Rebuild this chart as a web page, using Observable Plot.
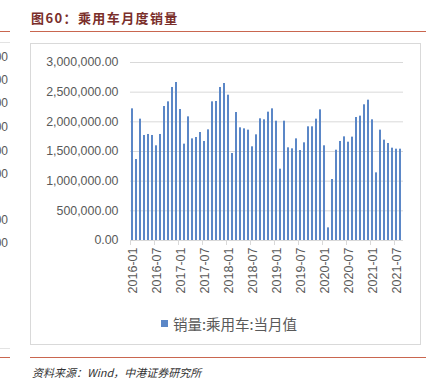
<!DOCTYPE html>
<html>
<head>
<meta charset="utf-8">
<script src="https://cdn.jsdelivr.net/npm/d3@7"></script>
<script src="https://cdn.jsdelivr.net/npm/@observablehq/plot@0.6"></script>
<style>
  html, body { margin: 0; padding: 0; background: #fff; }
  body { width: 435px; height: 386px; position: relative; overflow: hidden; font-family: "Liberation Sans", Arial, sans-serif; }
  .abs { position: absolute; }
  #title { left: 31px; top: 8px; font-family: "Noto Sans CJK SC", sans-serif; font-weight: bold; font-size: 13px; letter-spacing: 1.4px; color: #7a2e2a; white-space: nowrap; }
  .redline { height: 0; border-top: 1.5px solid #c9664f; }
  .grayline { height: 0; border-top: 1px solid #e3e3e3; }
  #box { left: 30px; top: 43px; width: 391px; height: 302px; border: 1px solid #d9d9d9; box-sizing: border-box; }
  #legend { left: 161px; top: 313px; font-family: "Noto Sans CJK SC", sans-serif; font-size: 14.5px; color: #595959; white-space: nowrap; display: flex; align-items: center; }
  #legend .sw { width: 7px; height: 7px; background: #5b87c7; margin-right: 5px; }
  #source { left: 32px; top: 364px; font-family: "Noto Sans CJK SC", sans-serif; font-style: italic; font-size: 11px; color: #333; white-space: nowrap; }
  .frag { right: 427px; font-size: 12px; color: #595959; white-space: nowrap; }
  svg.plot { position: absolute; left: 0; top: 0; }
</style>
</head>
<body>
<div id="box" class="abs"></div>
<div id="title" class="abs">图60：乘用车月度销量</div>
<div class="abs redline" style="left:30px; top:31px; width:396px;"></div>
<div class="abs redline" style="left:30px; top:357px; width:396px;"></div>
<div class="abs redline" style="left:0px; top:31px; width:10px;"></div>
<div class="abs grayline" style="left:0px; top:42px; width:10px;"></div>
<div class="abs grayline" style="left:0px; top:348px; width:10px;"></div>
<div class="abs redline" style="left:0px; top:357px; width:10px;"></div>
<div id="legend" class="abs"><span class="sw"></span><span>销量:乘用车:当月值</span></div>
<div id="source" class="abs">资料来源：Wind，中港证券研究所</div>
<div id="frags"></div>
<script>
// ---- data ----
const years = ["2016", "2017", "2018", "2019", "2020", "2021"];
const monthNums = ["01","02","03","04","05","06","07","08","09","10","11","12"];
const lastMonth = "2021-08";
const sales = [
  // 2016
  2219000, 1365000, 2045000, 1770000, 1787000, 1770000, 1596000, 1787000, 2258000, 2337000, 2579000, 2663000,
  // 2017
  2208000, 1624000, 2084000, 1713000, 1736000, 1820000, 1669000, 1865000, 2337000, 2343000, 2579000, 2646000,
  // 2018
  2449000, 1466000, 2157000, 1899000, 1882000, 1860000, 1579000, 1781000, 2051000, 2034000, 2163000, 2219000,
  // 2019
  2011000, 1202000, 2011000, 1562000, 1545000, 1713000, 1517000, 1646000, 1916000, 1916000, 2045000, 2202000,
  // 2020
  1596000, 213000, 1028000, 1522000, 1669000, 1747000, 1657000, 1742000, 2073000, 2096000, 2287000, 2365000,
  // 2021
  2034000, 1140000, 1860000, 1691000, 1635000, 1556000, 1539000, 1539000
];
const tickLabels = ["2016-01","2016-07","2017-01","2017-07","2018-01","2018-07","2019-01","2019-07","2020-01","2020-07","2021-01","2021-07"];
const yTicks = [0, 500000, 1000000, 1500000, 2000000, 2500000, 3000000];
const fragLabels = [".00", "00", "00", "00", "00", "00", "00", "00"];
const fragTops = [58, 81, 104, 128, 152, 175, 221, 244];

// categories
const months = [];
for (const y of years) for (const m of monthNums) {
  const k = `${y}-${m}`;
  if (k <= lastMonth) months.push(k);
}
const data = months.map((m, i) => ({month: m, value: sales[i]}));

const fmt = d3.format(",.2f");

const chart = Plot.plot({
  width: 435,
  height: 386,
  marginLeft: 130,
  marginRight: 32,
  marginTop: 62,
  marginBottom: 146,
  style: {background: "transparent", fontFamily: "'Liberation Sans', Arial, sans-serif", color: "#595959"},
  x: {type: "band", domain: months, paddingInner: 0.45, paddingOuter: 0.22, axis: null},
  y: {domain: [0, 3000000], axis: null},
  marks: [
    Plot.gridY(yTicks, {stroke: "#d9d9d9", strokeOpacity: 1, strokeWidth: 1}),
    Plot.axisY(yTicks, {tickSize: 0, tickPadding: 12, tickFormat: fmt, fontSize: 12.4, fill: "#595959", label: null}),
    Plot.barY(data, {x: "month", y: "value", fill: "#5b87c7"}),
    Plot.axisX(tickLabels, {tickSize: 5, dx: -2, tickFormat: () => "", stroke: "#d9d9d9", label: null}),
    Plot.axisX(tickLabels, {tickSize: 0, tickPadding: 7, tickRotate: -90, fontSize: 12.5, fill: "#595959", label: null})
  ]
});
document.body.appendChild(chart);

const frags = document.getElementById("frags");
fragLabels.forEach((t, i) => {
  const d = document.createElement("div");
  d.className = "abs frag";
  d.style.top = (fragTops[i] - 8) + "px";
  d.textContent = t;
  frags.appendChild(d);
});
</script>
</body>
</html>
